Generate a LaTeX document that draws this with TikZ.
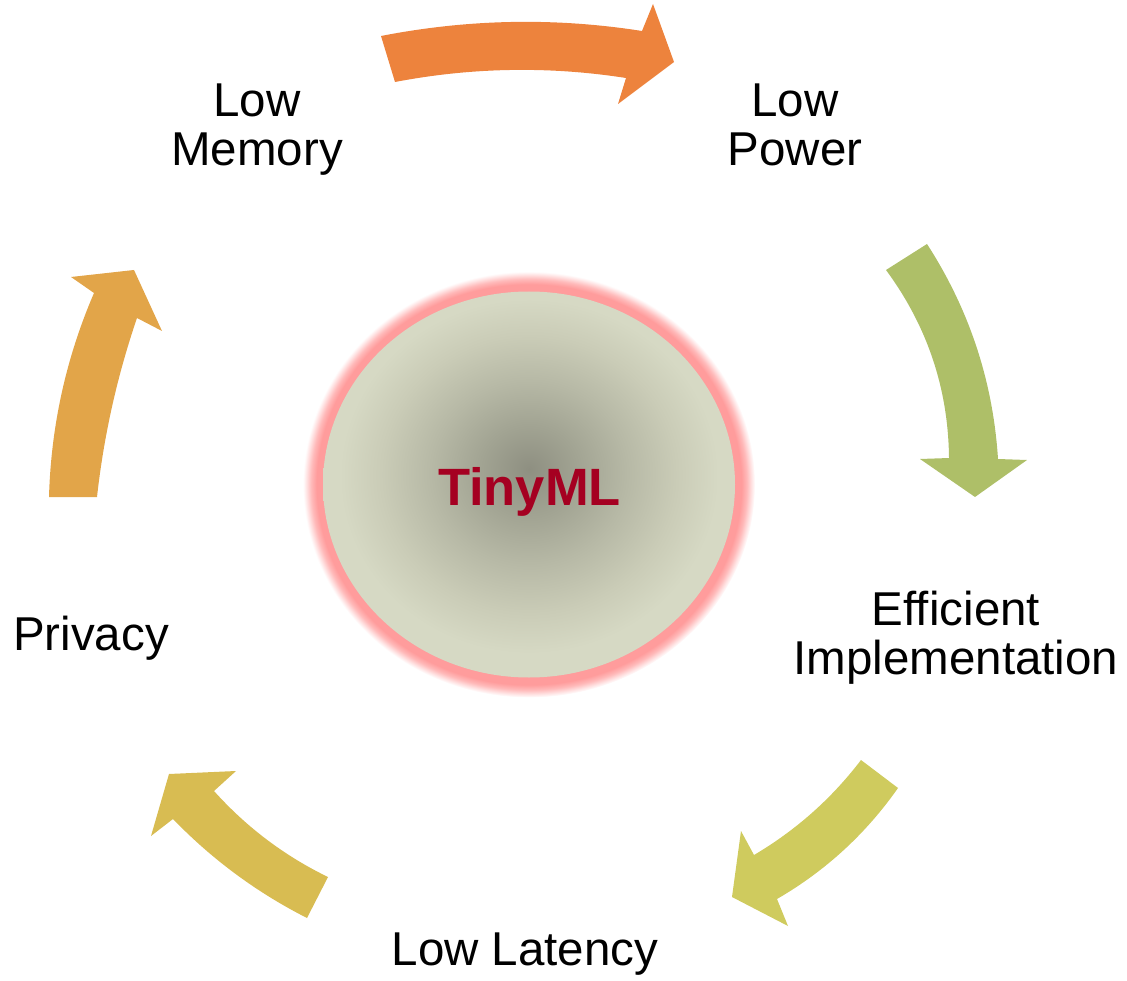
\documentclass[tikz,border=0pt]{standalone}
\usepackage{fontspec}
\setmainfont{Liberation Sans}

\definecolor{arrA}{HTML}{ED833D}
\definecolor{arrB}{HTML}{AEBF68}
\definecolor{arrC}{HTML}{CFCB5E}
\definecolor{arrD}{HTML}{D8BC52}
\definecolor{arrE}{HTML}{E2A549}
\definecolor{glowpink}{HTML}{FF9C9C}
\definecolor{ballc}{HTML}{8E8F81}
\definecolor{ballq}{HTML}{A2A493}
\definecolor{ballm}{HTML}{B7B9A6}
\definecolor{ballr}{HTML}{CACCB7}
\definecolor{balle}{HTML}{D6D9C4}
\definecolor{titlered}{HTML}{A50021}

% the rim of a shaded ellipse sits at 25bp of a radial shading
\pgfdeclareradialshading{halo}{\pgfpoint{0bp}{0bp}}{%
  color(0bp)=(glowpink); color(23.5bp)=(glowpink);
  color(24.1bp)=(glowpink!70!white); color(24.6bp)=(glowpink!30!white);
  color(25bp)=(white); color(50bp)=(white)}
\pgfdeclareradialshading{orb}{\pgfpoint{0bp}{2bp}}{%
  color(0bp)=(ballc); color(6bp)=(ballq); color(12bp)=(ballm);
  color(18bp)=(ballr); color(23bp)=(balle); color(50bp)=(balle)}

\tikzset{
  label/.style={font=\fontsize{47.5}{49}\selectfont, text=black, inner sep=0pt, align=center},
}

\begin{document}
\begin{tikzpicture}[x=1pt,y=-1pt]
\useasboundingbox (0,0) rectangle (1127,981);

% central disc with halo
\shade[shading=halo] (529,484.5) ellipse [x radius=226, y radius=213];
\shade[shading=orb] (529,484.5) ellipse [x radius=206, y radius=193];
\node[font=\fontsize{52.5}{60}\selectfont\bfseries, text=titlered, inner sep=0pt, anchor=base]
  (core) at (529.5,505) {TinyML};

% curved block arrows of the cycle
\fill[arrA] (381,36) .. controls (468,19) and (555,17.3) .. (642,31) -- (653,4) -- (674,62)
  -- (618,104) -- (626,78) .. controls (549,66) and (472,67.3) .. (395,82) -- cycle;
\fill[arrB] (927,244) .. controls (969.3,309.5) and (993,381.2) .. (998,459) -- (1027,460)
  -- (975,497) -- (920,459) -- (949,458) .. controls (948.3,388.7) and (927.3,326) .. (886,270) -- cycle;
\fill[arrC] (898,788) .. controls (865.8,833.9) and (825.5,870.9) .. (777,899) -- (788,926)
  -- (732,897) -- (741,831) -- (754,855) .. controls (796,830.2) and (831.7,798.5) .. (861,760) -- cycle;
\fill[arrD] (307,918) .. controls (256.8,892.5) and (212.1,859.5) .. (173,819) -- (151,836)
  -- (169,774) -- (236,771) -- (214,791) .. controls (246.5,827.2) and (284.5,855.9) .. (328,877) -- cycle;
\fill[arrE] (49,497) .. controls (51,426.1) and (66,358.1) .. (94,293) -- (71,277) -- (134,270)
  -- (162,331) -- (137,318) .. controls (117.1,376.2) and (103.8,435.9) .. (97,497) -- cycle;

% labels
\node[label, anchor=north] (mem) at (257,83.5) {Low\\Memory};
\node[label, anchor=north] (pow) at (795,83.5) {Low\\Power};
\node[label, anchor=north] (eff) at (956,590.5) {Efficient\\Implementation};
\node[label, anchor=base] (lat) at (525,965) {Low Latency};
\node[label, anchor=base] (priv) at (91,650) {Privacy};
\end{tikzpicture}
\end{document}
